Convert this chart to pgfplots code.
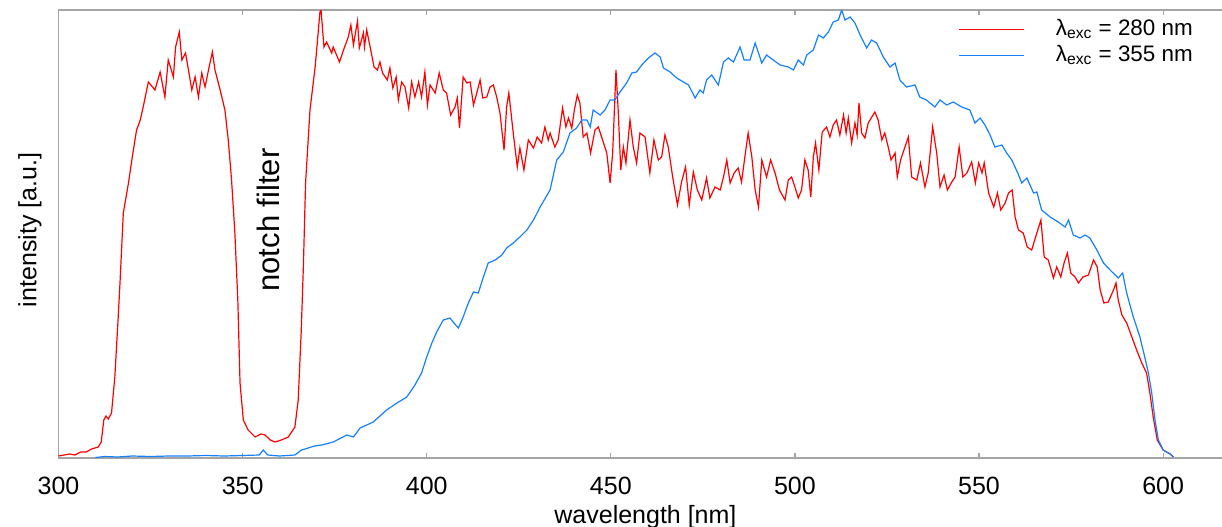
\documentclass[border=0pt]{standalone}
\usepackage{fontspec}
\setmainfont{Liberation Sans}
\usepackage{pgfplots}
\pgfplotsset{compat=1.18}
\definecolor{exred}{RGB}{255,0,0}
\definecolor{exblue}{RGB}{20,128,255}
\definecolor{boxgray}{RGB}{165,165,165}

\begin{document}
\begin{tikzpicture}
\begin{axis}[
    scale only axis,
    width=587.3pt, height=224pt,
    xmin=300, xmax=619, ymin=0, ymax=448,
    xtick={300,350,...,600},
    ytick=\empty,
    tick align=inside,
    major tick length=2.5pt,
    axis line style={boxgray, line width=0.6pt},
    every tick/.style={boxgray, line width=0.6pt},
    /pgf/number format/assume math mode=true,
    tick label style={font=\fontsize{12.5}{15}\selectfont},
    xticklabel style={yshift=-5.8pt},
    label style={font=\fontsize{12.5}{15}\selectfont},
    xlabel={wavelength [nm]},
    ylabel={intensity [a.u.]},
    xlabel style={at={(axis description cs:0.4997,0)}, anchor=north, yshift=-20.3pt},
    ylabel style={at={(axis description cs:-0.0243,0.509)}, anchor=center},
    legend cell align=left,
    legend image post style={xscale=1.904},
    legend style={at={(axis description cs:0,1)}, anchor=north west,
        xshift=450pt, yshift=-2.5pt, fill=none, inner sep=0pt,
        font=\fontsize{11.2}{13}\selectfont, row sep=-0.6pt,
        /tikz/every odd column/.append style={column sep=13.5pt}},
    every axis legend/.append style={draw=none},
]
\addplot[exred, line width=0.6pt, forget plot] coordinates {
(300,2) (301.5,3) (303,4) (304.5,3) (306,6) (307.5,6) (309,9) (310.8,11) (311.6,16) (312.3,38) (312.9,42) (313.5,39) (314.4,45) (315.3,81) (316.2,140) (316.7,175) (317.6,245) (319,275) (320,300) (321.2,328) (322.2,338) (323,351) (324.4,376) (325.3,372) (326.2,368) (327.6,386) (328.9,361) (329.8,398) (331.2,381) (331.8,411) (332.8,426) (333.5,398) (334.5,405) (335.3,388) (336.2,368) (337.1,381) (338,361) (338.9,385) (339.8,371) (340.9,391) (341.8,406) (342.5,388) (343.9,368) (345.2,348) (346.1,318) (347,278) (347.9,225) (348.7,158) (349.3,75) (350.2,38) (351.5,28) (353.4,21) (355,24) (356.1,23) (357.5,18) (358.8,16) (360.5,18) (362.4,21) (364.2,31) (365.1,58) (365.9,125) (366.5,191) (367.1,275) (368.3,348) (369.7,391) (371,446) (371.3,448) (372.1,411) (372.8,416) (374.2,405) (374.6,411) (376.3,396) (377.4,408) (378.7,421) (379.4,433) (380.1,413) (381.2,437) (381.7,410) (382.8,425) (383.1,411) (383.7,428) (384.8,408) (385.7,391) (386.6,388) (387.3,396) (388,385) (389.3,378) (390,390) (390.8,370) (391.7,381) (392.3,358) (393.2,376) (394.1,371) (395.1,350) (395.9,376) (396.8,361) (397.8,376) (398.6,361) (399.5,386) (400.2,353) (400.9,373) (402.3,365) (403.4,385) (404.5,368) (405.4,365) (406.5,343) (407.7,351) (408.3,360) (408.9,330) (409.9,381) (410.9,375) (411.8,376) (412.7,353) (413.6,365) (414.5,378) (415.2,360) (416.3,361) (417.2,371) (418.1,373) (419,361) (419.9,345) (421,308) (421.7,351) (422.3,365) (423.5,325) (424.6,291) (425.3,310) (426.4,288) (427.6,318) (429,310) (430,321) (431.2,315) (432.1,331) (433,318) (433.5,325) (434.8,311) (435.7,318) (436.9,350) (437.8,331) (438.5,340) (439.4,330) (440.1,348) (440.9,363) (441.6,355) (442.5,321) (443.5,325) (444.5,305) (445.7,328) (446.6,331) (447.5,321) (448.9,305) (449.8,275) (450.5,305) (451.4,388) (452,348) (452.7,288) (453.4,311) (454.1,295) (455.2,338) (456.1,311) (457,295) (457.9,325) (459.3,321) (460.6,285) (461.7,318) (462.9,298) (463.8,301) (464.7,323) (465.6,311) (466.8,281) (468.1,253) (469.2,276) (470.3,291) (471.3,253) (472.4,286) (473.5,268) (474.7,258) (476,280) (476.9,260) (478.3,271) (479.7,268) (480.6,281) (481.5,298) (482.4,275) (483.5,285) (484.6,290) (485.5,276) (486.4,301) (487.3,325) (488.3,301) (489.2,268) (490.1,251) (491,298) (492.3,281) (493.4,298) (494.6,285) (495.8,268) (497.3,258) (498.2,278) (499.1,281) (500,271) (500.9,260) (501.8,268) (502.7,298) (503.6,288) (504.3,261) (505,301) (505.6,315) (506.5,288) (507.4,326) (508.6,331) (509.5,321) (510.4,333) (511.3,338) (512.2,323) (513.2,343) (513.9,325) (514.5,340) (515.4,315) (516.3,335) (516.9,323) (517.4,355) (518.1,325) (519,320) (519.9,335) (521.7,346) (522.6,338) (523.6,318) (524.4,325) (525.4,310) (526.1,298) (527.2,305) (527.8,281) (528.7,298) (529.6,308) (530.8,321) (531.7,281) (533.1,278) (534.1,295) (535.3,271) (536.2,285) (537.4,331) (538.5,305) (539.4,271) (540.5,283) (541.4,268) (542.6,276) (543.5,281) (544.6,311) (545.6,281) (546.7,285) (548,296) (549,275) (549.9,295) (550.8,285) (551.4,295) (552.6,265) (554,251) (555,265) (555.9,248) (557.1,255) (558,265) (559,268) (559.8,241) (560.7,228) (562,225) (563.1,211) (564.3,208) (565.7,225) (566.8,238) (567.7,201) (568.8,198) (570.2,180) (571.1,191) (572.2,181) (573.1,195) (574,205) (574.9,185) (576.1,181) (577,175) (578.2,181) (579.7,183) (581.1,198) (582.1,191) (582.9,168) (583.9,155) (585.1,156) (586.5,168) (587.2,175) (587.8,158) (588.8,143) (590.1,135) (591.5,121) (592.8,108) (594.2,95) (595.5,85) (596.4,65) (597.3,41) (598.4,18) (600,8) (601.9,4) (602.8,1)
};
\addplot[exblue, line width=0.6pt, forget plot] coordinates {
(310,0.5) (312.6,1.5) (316,1) (320,2) (325,1.5) (330,2) (335,2) (340,2.5) (345,2) (350,2.5) (354.5,3) (355.6,8) (356.8,3) (360,2) (364.2,3) (366,8) (367.8,10) (369.5,12) (371.5,13) (374.6,16) (378.3,23) (380.1,21) (381.9,30) (385.5,36) (389.1,48) (391.9,55) (394.6,61) (396.8,73) (398.6,85) (400,101) (401.4,115) (402.7,126) (404.5,138) (406.3,140) (407.4,135) (408.6,130) (409.9,141) (411.3,155) (412.7,166) (414,165) (415.4,181) (416.7,195) (418.6,198) (420.4,203) (421.7,210) (423.5,215) (425.3,221) (427.2,228) (429,238) (430.8,251) (433.5,268) (435.3,298) (437.1,306) (438.9,325) (440.7,330) (442.1,338) (443.5,338) (444.4,331) (445.2,348) (447.1,343) (448.4,348) (449.8,358) (451.1,358) (452.5,366) (454.3,375) (455.7,385) (457,386) (458.4,393) (460.2,400) (462,405) (463.4,401) (464.3,390) (466.1,386) (467.9,380) (469.7,376) (471.1,373) (472.9,360) (474.2,368) (475.1,365) (476,378) (477.4,383) (478.3,378) (479.2,373) (480.6,396) (481.9,400) (483.3,396) (485.1,411) (486.2,398) (487.8,398) (489.2,415) (491,395) (492.3,403) (494.1,398) (496,393) (498.2,391) (499.6,388) (500.9,398) (502.3,393) (503.2,403) (505,408) (506.4,423) (507.7,420) (509.1,426) (510.4,436) (511.8,438) (512.7,448) (513.6,438) (515,441) (516.3,435) (517.7,423) (519.5,410) (520.8,418) (522.2,415) (524,401) (525.8,391) (527.2,395) (528.5,378) (530.3,371) (532.6,373) (533.9,361) (535.7,358) (538,351) (539.4,358) (541.2,353) (543,356) (545.3,351) (547.5,348) (548.9,335) (550.3,340) (551.6,333) (553,323) (554.3,311) (556.2,313) (557.5,305) (558.9,298) (560.5,285) (561.6,275) (563,280) (564.8,265) (565.7,266) (567,248) (569.3,241) (571.5,236) (573.4,231) (574.3,238) (575.6,223) (577.4,220) (578.8,223) (580.1,220) (582,208) (583.8,195) (585.6,188) (587.8,180) (589,185) (590.1,165) (591.9,141) (593.7,121) (595,101) (596,85) (596.9,65) (597.8,38) (598.7,18) (600,8) (601.9,4) (602.8,1)
};
\addlegendimage{exred, line width=0.5pt}
\addlegendentry{λ\textsubscript{exc} = 280 nm}
\addlegendimage{exblue, line width=0.5pt}
\addlegendentry{λ\textsubscript{exc} = 355 nm}
\node[rotate=90, anchor=center, font=\fontsize{15.5}{18}\selectfont] at (axis cs:357.1,238) {notch filter};
\end{axis}
\pgfresetboundingbox
\path[use as bounding box] ([shift={(-29.25pt,-34pt)}]current axis.south west) rectangle ([shift={(581.75pt,5pt)}]current axis.north west);
\end{tikzpicture}
\end{document}
